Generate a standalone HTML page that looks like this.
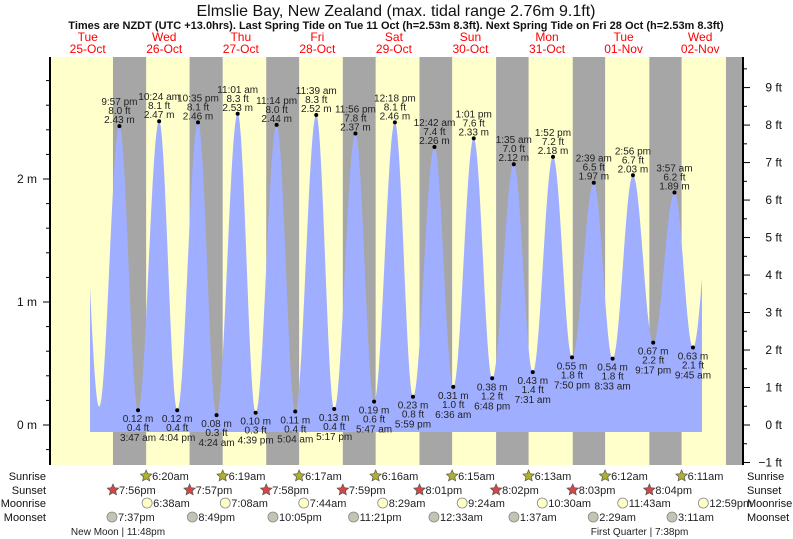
<!DOCTYPE html>
<html><head><meta charset="utf-8"><style>
body{margin:0;background:#fff;}
svg{display:block;font-family:"Liberation Sans",sans-serif;}
</style></head><body>
<svg id="chart" width="793" height="539" viewBox="0 0 793 539" xmlns="http://www.w3.org/2000/svg">
<text x="396" y="16" text-anchor="middle" font-size="16" fill="#111">Elmslie Bay, New Zealand (max. tidal range 2.76m 9.1ft)</text>
<text x="396" y="29" text-anchor="middle" font-size="11" font-weight="bold" fill="#111">Times are NZDT (UTC +13.0hrs). Last Spring Tide on Tue 11 Oct (h=2.53m 8.3ft). Next Spring Tide on Fri 28 Oct (h=2.53m 8.3ft)</text>
<g id="bg"></g><g id="water"></g><g id="axes"></g><g id="labels"></g><g id="astro"></g>
</svg>
<script>
// ---- data ----
const dayNames=["Tue","Wed","Thu","Fri","Sat","Sun","Mon","Tue","Wed"];
const dayDates=["25-Oct","26-Oct","27-Oct","28-Oct","29-Oct","30-Oct","31-Oct","01-Nov","02-Nov"];
// tide extremes: hours since Oct 25 00:00 , height m
const tideHours=[9.3,15.6,21.95,27.78,34.4,40.07,46.58,52.4,59.02,64.65,71.23,77.07,83.65,89.28,95.93,101.78,108.3,113.98,120.7,126.6,133.02,138.8,145.58,151.52,157.87,163.83,170.65,176.55,182.93,189.28,195.95,201.75,208.0];
const tideHeights=[2.40,0.15,2.43,0.12,2.47,0.12,2.46,0.08,2.53,0.10,2.44,0.11,2.52,0.13,2.37,0.19,2.46,0.23,2.26,0.31,2.33,0.38,2.12,0.43,2.18,0.55,1.97,0.54,2.03,0.67,1.89,0.63,1.95];
const tideLabels=["","","9:57 pm","3:47 am","10:24 am","4:04 pm","10:35 pm","4:24 am","11:01 am","4:39 pm","11:14 pm","5:04 am","11:39 am","5:17 pm","11:56 pm","5:47 am","12:18 pm","5:59 pm","12:42 am","6:36 am","1:01 pm","6:48 pm","1:35 am","7:31 am","1:52 pm","7:50 pm","2:39 am","8:33 am","2:56 pm","9:17 pm","3:57 am","9:45 am",""];
const sunriseHours=[30.33,54.32,78.28,102.27,126.25,150.22,174.2,198.18];
const sunriseText=["6:20am","6:19am","6:17am","6:16am","6:15am","6:13am","6:12am","6:11am"];
const sunsetHours=[19.93,43.95,67.97,91.98,116.02,140.03,164.05,188.07,212.08];
const sunsetText=["7:56pm","7:57pm","7:58pm","7:59pm","8:01pm","8:02pm","8:03pm","8:04pm",""];
const moonriseHours=[30.63,55.13,79.73,104.48,129.4,154.5,179.72,205.0];
const moonriseText=["6:38am","7:08am","7:44am","8:29am","9:24am","10:30am","11:43am","12:59pm"];
const moonsetHours=[19.62,44.82,70.08,95.35,120.55,145.62,170.48,195.18];
const moonsetText=["7:37pm","8:49pm","10:05pm","11:21pm","12:33am","1:37am","2:29am","3:11am"];
const phaseHours=[21.5,185.0];
const phaseText=["New Moon | 11:48pm","First Quarter | 7:38pm"];
const mTicks=[0,1,2];
const ftTicks=[-1,0,1,2,3,4,5,6,7,8,9];

// ---- scales ----
const X0=49.4,PXH=3.19,PL=50,PR=743,PT=57,PB=465;
const xs=h=>X0+h*PXH;
const ys=m=>425-m*123;
const NS="http://www.w3.org/2000/svg";
function mk(tag,attrs,parent,txt){const e=document.createElementNS(NS,tag);for(const k in attrs)e.setAttribute(k,attrs[k]);if(txt!==undefined)e.textContent=txt;parent.appendChild(e);return e;}
const bg=document.getElementById('bg'),water=document.getElementById('water'),axes=document.getElementById('axes'),labels=document.getElementById('labels'),astro=document.getElementById('astro'),svg=document.getElementById('chart');

let r=mk('rect',{x:PL,y:PT,width:PR-PL,height:PB-PT,fill:'#ffffcc'},bg);


for(let i=0;i<sunsetHours.length;i++){
  const a=Math.max(PL,xs(sunsetHours[i]));const b=Math.min(PR,i<sunriseHours.length?xs(sunriseHours[i]):PR);
  if(b<=a)continue;
  const n=mk('rect',{x:a,y:PT,width:b-a,height:PB-PT,fill:'#a6a6a6'},bg);
  
  
}
for(let i=0;i<dayNames.length;i++){
  const cx=xs(i*24+12);
  const t1=mk('text',{x:cx,y:41,'text-anchor':'middle','font-size':12,fill:'#ff0000'},labels,dayNames[i]);
  
  
  const t2=mk('text',{x:cx,y:53,'text-anchor':'middle','font-size':12,fill:'#ff0000'},labels,dayDates[i]);
  
  
}
function tideAt(h){
  for(let i=0;i<tideHours.length-1;i++){
    if(h>=tideHours[i]&&h<=tideHours[i+1]){
      const f=(h-tideHours[i])/(tideHours[i+1]-tideHours[i]);
      return tideHeights[i]+(tideHeights[i+1]-tideHeights[i])*(1-Math.cos(Math.PI*f))/2;
    }
  }
  return tideHeights[tideHeights.length-1];
}
const hStart=(90-X0)/PXH,hEnd=(702-X0)/PXH,yBase=432;
let d=`M${xs(hStart)},${yBase}`;
for(let h=hStart;h<=hEnd;h+=0.1)d+=` L${xs(h).toFixed(2)},${ys(tideAt(h)).toFixed(2)}`;
d+=` L${xs(hEnd)},${ys(tideAt(hEnd))} L${xs(hEnd)},${yBase} Z`;
const wp=mk('path',{d:d,fill:'#a0aeff'},water);



for(let i=0;i<tideHours.length;i++){
  if(!tideLabels[i])continue;
  const cx=xs(tideHours[i]),cy=ys(tideHeights[i]);
  const high=(i>0?tideHeights[i]>tideHeights[i-1]:tideHeights[i]>tideHeights[i+1]);
  const dot=mk('circle',{cx:cx,cy:cy,r:2,fill:'#000'},labels);
  
  
  const ft=(tideHeights[i]*3.28084).toFixed(1)+' ft',m=tideHeights[i].toFixed(2)+' m';
  const lines=high?[[tideLabels[i],-21],[ft,-12],[m,-3]]:[[m,12],[ft,21],[tideLabels[i],31]];
  for(const [s,o] of lines){
    const t=mk('text',{x:cx,y:cy+o,'text-anchor':'middle','font-size':10,fill:'#222'},labels,s);
    
    
  }
}
let ln=mk('line',{x1:PL,y1:PT,x2:PL,y2:PB,stroke:'#000','stroke-width':2},axes);


ln=mk('line',{x1:PR,y1:PT,x2:PR,y2:PB,stroke:'#000','stroke-width':2},axes);


for(let v=-0.2;v<=2.9;v+=0.2){
  const y=ys(v);if(y<PT||y>PB)continue;
  const major=Math.abs(v-Math.round(v))<0.01;
  mk('line',{x1:PL-(major?7:4),y1:y,x2:PL,y2:y,stroke:'#000'},axes);
}
for(const v of mTicks){
  const t=mk('text',{x:37,y:ys(v)+4,'text-anchor':'end','font-size':12,fill:'#111'},axes,v+' m');
  
  
}
for(let v=-1;v<=9.5;v+=0.5){
  const y=ys(v*0.3048);if(y<PT||y>PB)continue;
  const major=Number.isInteger(v);
  mk('line',{x1:PR,y1:y,x2:PR+(major?7:4),y2:y,stroke:'#000'},axes);
}
for(const v of ftTicks){
  const t=mk('text',{x:782,y:ys(v*0.3048)+4,'text-anchor':'end','font-size':12,fill:'#111'},axes,(v<0?'\u2212'+(-v):v)+' ft');
  
  
}
const rowY={Sunrise:476,Sunset:490,Moonrise:503,Moonset:517};
for(const k in rowY){
  const a=mk('text',{x:46,y:rowY[k]+4,'text-anchor':'end','font-size':11,fill:'#111'},astro,k);
  
  
  const b=mk('text',{x:747,y:rowY[k]+4,'font-size':11,fill:'#111'},astro,k);
  
  
}
function star(cx,cy,fill){let p='';for(let i=0;i<10;i++){const rr=i%2?2.8:6,a=-Math.PI/2+i*Math.PI/5;p+=(i?'L':'M')+(cx+rr*Math.cos(a)).toFixed(2)+','+(cy+rr*Math.sin(a)).toFixed(2);}return mk('path',{d:p+'Z',fill:fill,stroke:'#555','stroke-width':0.7},astro);}
function row(hours,texts,y,kind){
  for(let i=0;i<hours.length;i++){
    if(!texts[i])continue;
    const cx=xs(hours[i]);
    let ic;
    if(kind==='sunrise')ic=star(cx,y,'#b0b030');
    else if(kind==='sunset')ic=star(cx,y,'#d04848');
    else ic=mk('circle',{cx:cx,cy:y,r:5,fill:kind==='moonrise'?'#ffffc8':'#c4c4b4',stroke:'#888','stroke-width':0.8},astro);
    
    
    const t=mk('text',{x:cx+6,y:y+4,'font-size':11,fill:'#222'},astro,texts[i]);
    
    
  }
}
row(sunriseHours,sunriseText,476,'sunrise');
row(sunsetHours,sunsetText,490,'sunset');
row(moonriseHours,moonriseText,503,'moonrise');
row(moonsetHours,moonsetText,517,'moonset');
for(let i=0;i<phaseHours.length;i++){
  const t=mk('text',{x:xs(phaseHours[i]),y:535,'text-anchor':'middle','font-size':10,fill:'#222'},astro,phaseText[i]);
  
  
}
</script>
</body></html>
